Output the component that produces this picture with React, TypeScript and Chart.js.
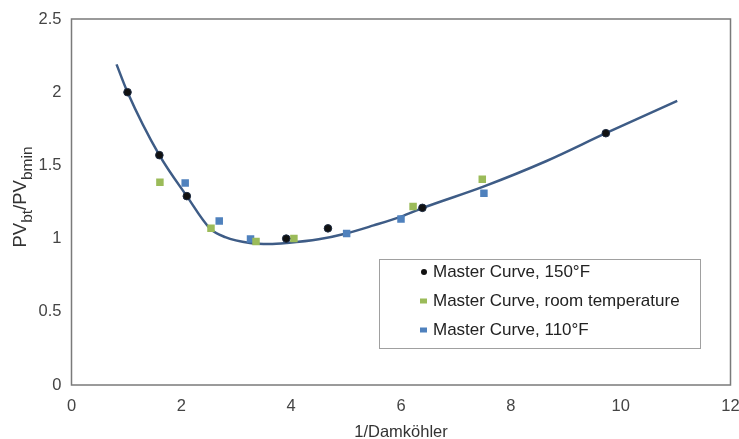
import React, { useEffect, useRef } from "react";
import { Chart, registerables } from "chart.js";

Chart.register(...registerables);

const FONT = "'Liberation Sans', Arial, Helvetica, sans-serif";

const X_TICKS = [0, 2, 4, 6, 8, 10, 12];
const Y_TICKS = [0, 0.5, 1, 1.5, 2, 2.5];
const X_TITLE = "1/Damköhler";

const SERIES_NAMES = [
  "Master Curve, 150°F",
  "Master Curve, room temperature",
  "Master Curve, 110°F",
];

const HOT_X = [1.02, 1.6, 2.1, 3.91, 4.67, 6.39, 9.73];
const HOT_Y = [2.0, 1.57, 1.29, 1.0, 1.07, 1.21, 1.72];

const ROOM_X = [1.61, 2.54, 3.36, 4.05, 6.22, 7.48];
const ROOM_Y = [1.385, 1.07, 0.98, 1.0, 1.22, 1.405];

const WARM_X = [2.07, 2.69, 3.26, 5.01, 6.0, 7.51];
const WARM_Y = [1.38, 1.12, 0.997, 1.035, 1.134, 1.31];

const CURVE_X = [0.82, 1.02, 1.6, 2.1, 2.52, 2.8, 3.25, 3.6, 3.92, 4.5, 5.0, 5.5, 6.0, 6.4, 7.5, 8.65, 9.73, 11.03];
const CURVE_Y = [2.19, 2.0, 1.57, 1.29, 1.07, 1.01, 0.97, 0.963, 0.97, 0.995, 1.035, 1.09, 1.15, 1.21, 1.355, 1.53, 1.72, 1.94];

const COLORS = {
  hot: "#111111",
  room: "#9bbb59",
  warm: "#4f81bd",
  curve: "#3e5c86",
};

const zip = (xs: number[], ys: number[]) => xs.map((x, i) => ({ x, y: ys[i] }));

const framePlugin = {
  id: "frame",
  afterDraw(chart: any) {
    const { ctx, chartArea: a } = chart;
    ctx.save();
    ctx.strokeStyle = "#7a7a7a";
    ctx.lineWidth = 1.5;
    ctx.strokeRect(a.left, a.top, a.right - a.left, a.bottom - a.top);
    ctx.restore();
  },
};

const titlesPlugin = {
  id: "titles",
  afterDraw(chart: any) {
    const { ctx, chartArea: a } = chart;
    ctx.save();
    ctx.font = `16.5px ${FONT}`;
    ctx.fillStyle = "#333333";
    ctx.textAlign = "center";
    ctx.textBaseline = "alphabetic";
    ctx.fillText(X_TITLE, (a.left + a.right) / 2, 436.5);
    ctx.restore();

    const parts = [
      { t: "PV", sub: false },
      { t: "bt", sub: true },
      { t: "/PV", sub: false },
      { t: "bmin", sub: true },
    ];
    const mainFont = `18.5px ${FONT}`;
    const subFont = `15.5px ${FONT}`;
    ctx.save();
    let total = 0;
    parts.forEach((p) => {
      ctx.font = p.sub ? subFont : mainFont;
      total += ctx.measureText(p.t).width;
    });
    ctx.translate(26, 197);
    ctx.rotate(-Math.PI / 2);
    ctx.fillStyle = "#333333";
    ctx.textBaseline = "alphabetic";
    ctx.textAlign = "left";
    let x = -total / 2;
    parts.forEach((p) => {
      ctx.font = p.sub ? subFont : mainFont;
      ctx.fillText(p.t, x, p.sub ? 6 : 0);
      x += ctx.measureText(p.t).width;
    });
    ctx.restore();
  },
};

const legendPlugin = {
  id: "boxlegend",
  afterDraw(chart: any) {
    const { ctx } = chart;
    ctx.save();
    ctx.strokeStyle = "#a0a0a0";
    ctx.lineWidth = 1;
    ctx.strokeRect(379.5, 259.5, 321, 89);
    const rows = [272, 301, 330];
    const markers = [COLORS.hot, COLORS.room, COLORS.warm];
    ctx.font = `17px ${FONT}`;
    ctx.textBaseline = "middle";
    ctx.textAlign = "left";
    rows.forEach((y, i) => {
      ctx.fillStyle = markers[i];
      if (i === 0) {
        ctx.beginPath();
        ctx.arc(424, y, 3, 0, Math.PI * 2);
        ctx.fill();
      } else {
        ctx.fillRect(420, y - 2.5, 7, 5);
      }
      ctx.fillStyle = "#222222";
      ctx.fillText(SERIES_NAMES[i], 433, y);
    });
    ctx.restore();
  },
};

export default function App() {
  const ref = useRef<HTMLCanvasElement | null>(null);

  useEffect(() => {
    if (!ref.current) return;
    const chart = new Chart(ref.current, {
      type: "scatter",
      data: {
        datasets: [
          {
            label: SERIES_NAMES[0],
            data: zip(HOT_X, HOT_Y),
            backgroundColor: COLORS.hot,
            borderColor: "#1c2a40",
            borderWidth: 1,
            pointRadius: 3.8,
            pointStyle: "circle",
          },
          {
            label: SERIES_NAMES[1],
            data: zip(ROOM_X, ROOM_Y),
            backgroundColor: COLORS.room,
            borderWidth: 0,
            pointRadius: 5.3,
            pointStyle: "rect",
          },
          {
            label: SERIES_NAMES[2],
            data: zip(WARM_X, WARM_Y),
            backgroundColor: COLORS.warm,
            borderWidth: 0,
            pointRadius: 5.3,
            pointStyle: "rect",
          },
          {
            label: "curve",
            data: zip(CURVE_X, CURVE_Y),
            showLine: true,
            borderColor: COLORS.curve,
            borderWidth: 2.5,
            pointRadius: 0,
            cubicInterpolationMode: "monotone",
            fill: false,
          } as any,
        ],
      },
      options: {
        animation: false,
        responsive: false,
        layout: { padding: { top: 19, right: 8.5, left: 0, bottom: 0 } },
        plugins: {
          legend: { display: false },
          tooltip: { enabled: false },
        },
        scales: {
          x: {
            type: "linear",
            min: 0,
            max: 12,
            afterBuildTicks: (s: any) => {
              s.ticks = X_TICKS.map((v) => ({ value: v }));
            },
            afterFit: (s: any) => {
              s.height = 54;
              s.paddingLeft = 0;
              s.paddingRight = 0;
            },
            ticks: {
              font: { family: FONT, size: 16.5 },
              color: "#444444",
              padding: 12,
              maxRotation: 0,
              callback: (v: any) => String(v),
            },
            grid: { display: false, drawTicks: false },
            border: { display: false },
          },
          y: {
            type: "linear",
            min: 0,
            max: 2.5,
            afterBuildTicks: (s: any) => {
              s.ticks = Y_TICKS.map((v) => ({ value: v }));
            },
            afterFit: (s: any) => {
              s.width = 71.5;
              s.paddingTop = 0;
              s.paddingBottom = 0;
            },
            ticks: {
              font: { family: FONT, size: 16.5 },
              color: "#444444",
              padding: 10,
              callback: (v: any) => String(v),
            },
            grid: { display: false, drawTicks: false },
            border: { display: false },
          },
        },
      },
      plugins: [framePlugin, titlesPlugin, legendPlugin],
    });
    return () => chart.destroy();
  }, []);

  return (
    <div style={{ position: "fixed", left: 0, top: 0, width: 739, height: 439, background: "#fff" }}>
      <canvas ref={ref} width={739} height={439} style={{ width: 739, height: 439 }} />
    </div>
  );
}
